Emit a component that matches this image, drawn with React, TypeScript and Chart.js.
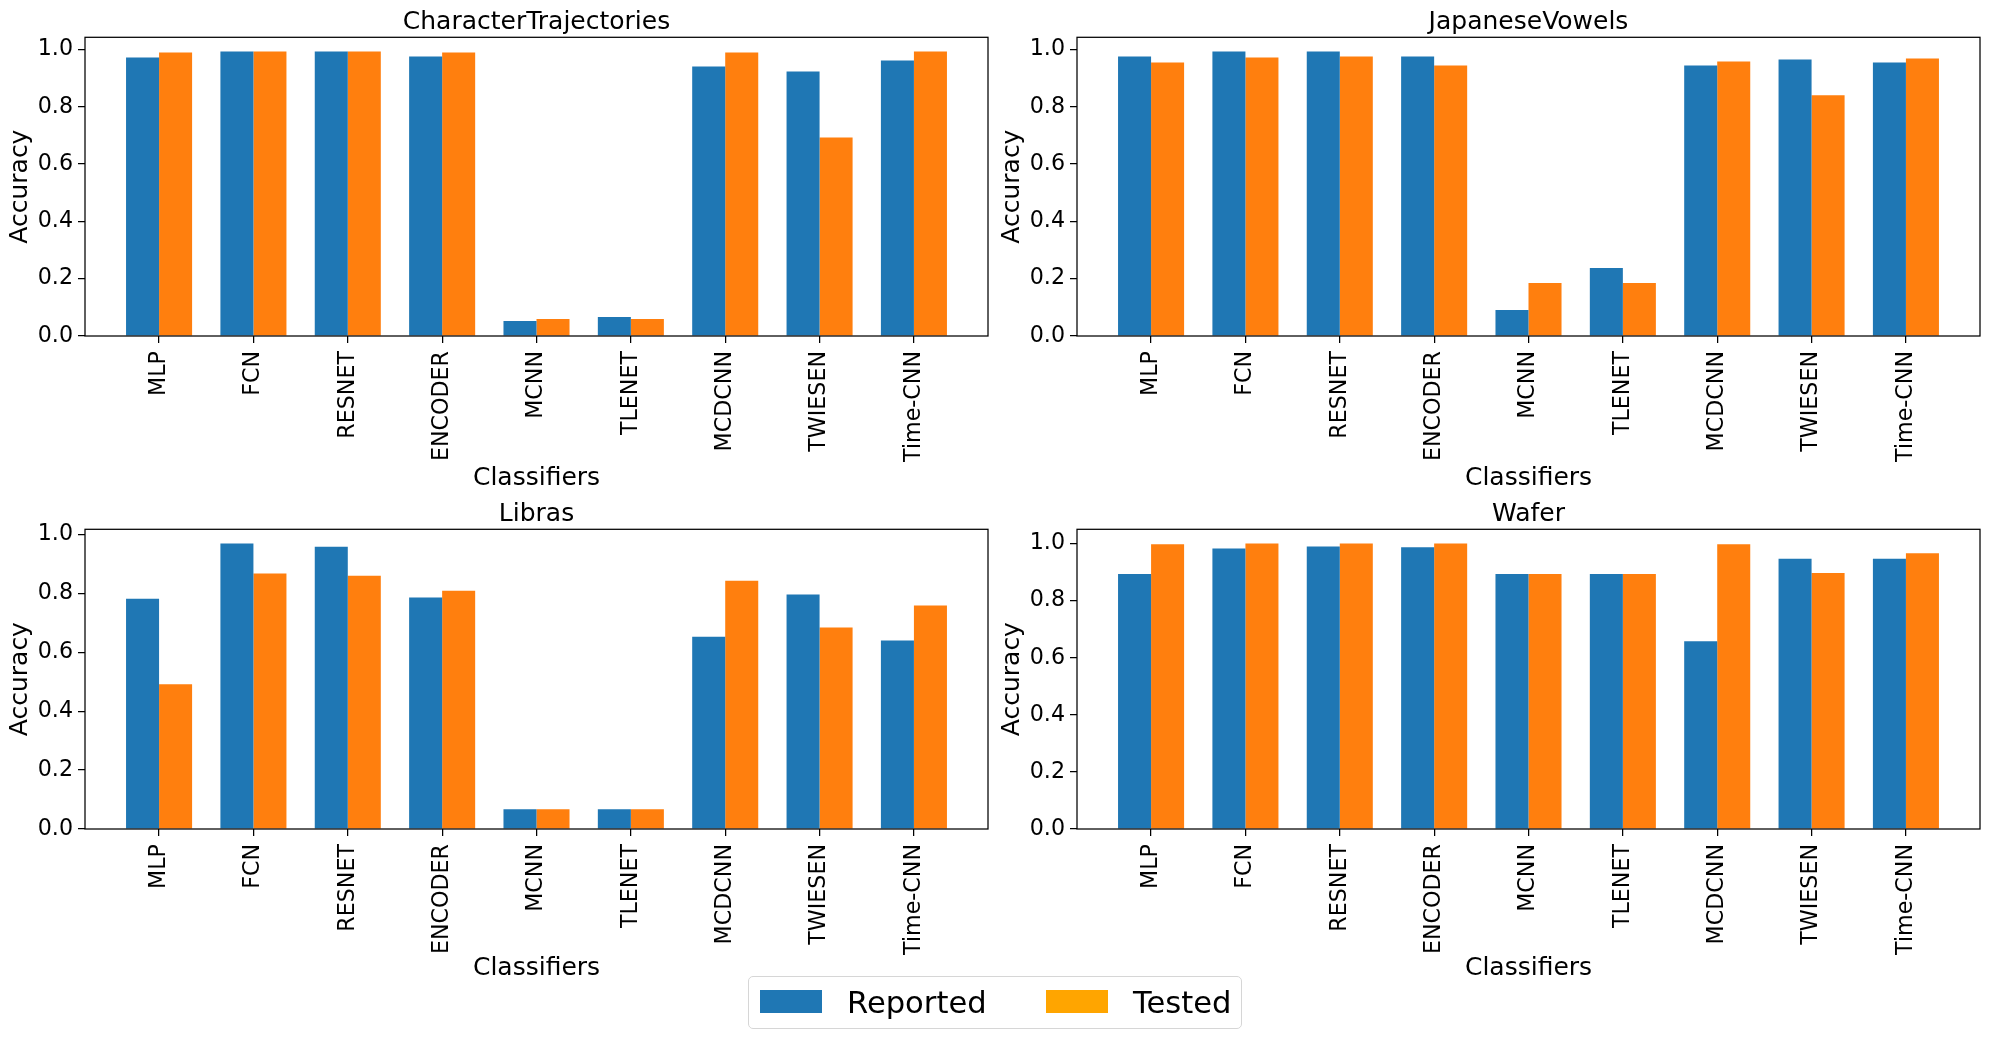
import React, { useEffect, useRef } from 'react';
import { Chart, registerables } from 'chart.js';

Chart.register(...registerables);

// ---------------- data ----------------
const classifiers = ['MLP', 'FCN', 'RESNET', 'ENCODER', 'MCNN', 'TLENET', 'MCDCNN', 'TWIESEN', 'Time-CNN'];
const seriesNames = ['Reported', 'Tested'];
const yTickValues = [0, 0.2, 0.4, 0.6, 0.8, 1.0];

const panelTitles = ['CharacterTrajectories', 'JapaneseVowels', 'Libras', 'Wafer'];

const charReported = [0.972, 0.993, 0.993, 0.976, 0.052, 0.066, 0.941, 0.923, 0.962];
const charTested = [0.990, 0.993, 0.993, 0.990, 0.059, 0.059, 0.990, 0.693, 0.993];

const japReported = [0.976, 0.993, 0.993, 0.976, 0.091, 0.237, 0.944, 0.965, 0.955];
const japTested = [0.955, 0.972, 0.976, 0.944, 0.185, 0.185, 0.958, 0.840, 0.969];

const librasReported = [0.782, 0.969, 0.958, 0.786, 0.0667, 0.0667, 0.653, 0.796, 0.640];
const librasTested = [0.491, 0.867, 0.860, 0.809, 0.0667, 0.0667, 0.843, 0.684, 0.759];

const waferReported = [0.893, 0.983, 0.990, 0.987, 0.893, 0.893, 0.658, 0.947, 0.947];
const waferTested = [0.998, 1.0, 1.0, 1.0, 0.893, 0.893, 0.998, 0.897, 0.966];

const panelReported = [charReported, japReported, librasReported, waferReported];
const panelTested = [charTested, japTested, librasTested, waferTested];

// ---------------- layout & style ----------------
const BLUE = '#1f77b4';
const ORANGE = '#ff7f0e';
const LEGEND_ORANGE = '#ffa500';
const FONT = "'DejaVu Sans', sans-serif";

type Layout = {
  left: number;
  top: number;
  width: number;
  height: number;
  padRight: number;
  titleBlock: number;
  titlePadTop: number;
  xBlock: number;
};

const layouts: Layout[] = [
  { left: 0, top: 0, width: 1000, height: 500, padRight: 12, titleBlock: 37.3, titlePadTop: 7.5, xBlock: 164 },
  { left: 992, top: 0, width: 998, height: 500, padRight: 10, titleBlock: 37.3, titlePadTop: 7.5, xBlock: 164 },
  { left: 0, top: 490, width: 1000, height: 500, padRight: 12, titleBlock: 39.3, titlePadTop: 9.7, xBlock: 161 },
  { left: 992, top: 490, width: 998, height: 500, padRight: 10, titleBlock: 39.3, titlePadTop: 9.7, xBlock: 161 },
];

const boxPlugin = {
  id: 'axesBox',
  afterDatasetsDraw(chart: any) {
    const { ctx, chartArea } = chart;
    const { left, top, right, bottom } = chartArea;
    ctx.save();
    ctx.strokeStyle = '#000';
    ctx.lineWidth = 1.25;
    ctx.strokeRect(left, top, right - left, bottom - top);
    ctx.restore();
  },
};

function Panel({ index }: { index: number }) {
  const ref = useRef<HTMLCanvasElement | null>(null);
  const lay = layouts[index];

  useEffect(() => {
    if (!ref.current) return;
    const reported = panelReported[index];
    const tested = panelTested[index];
    const n = classifiers.length;
    const lo = -0.35;
    const hi = n - 1 + 0.35;
    const margin = 0.05 * (hi - lo);
    const yMax = Math.max(...reported, ...tested) * 1.05;

    const tickGrid = {
      display: true,
      drawOnChartArea: false,
      drawTicks: true,
      tickLength: 7,
      color: '#000',
      lineWidth: 1.25,
      offset: false,
    };

    const chart = new Chart(ref.current, {
      type: 'bar',
      data: {
        datasets: [
          {
            label: seriesNames[0],
            data: reported.map((v, i) => ({ x: i, y: v })),
            backgroundColor: BLUE,
            borderWidth: 0,
            xAxisID: 'x',
            yAxisID: 'y',
          },
          {
            label: seriesNames[1],
            data: tested.map((v, i) => ({ x: i, y: v })),
            backgroundColor: ORANGE,
            borderWidth: 0,
            xAxisID: 'x',
            yAxisID: 'y',
          },
        ],
      },
      options: {
        animation: false,
        responsive: false,
        devicePixelRatio: 1,
        categoryPercentage: 0.7,
        barPercentage: 1.0,
        layout: { padding: { left: 0, right: lay.padRight, top: 0, bottom: 0 } },
        plugins: {
          legend: { display: false },
          tooltip: { enabled: false },
          title: { display: false },
        },
        scales: {
          x: {
            type: 'linear',
            position: 'bottom',
            min: lo - margin,
            max: hi + margin,
            offset: false,
            grid: tickGrid,
            border: { display: false },
            afterBuildTicks: (scale: any) => {
              scale.ticks = classifiers.map((_, i) => ({ value: i }));
            },
            afterFit: (scale: any) => {
              scale.height = lay.xBlock;
            },
            ticks: {
              autoSkip: false,
              minRotation: 90,
              maxRotation: 90,
              padding: 8,
              color: '#000',
              font: { family: FONT, size: 22.2 },
              callback: (v: any) => classifiers[Math.round(Number(v))] ?? '',
            },
            title: {
              display: true,
              text: 'Classifiers',
              color: '#000',
              font: { family: FONT, size: 25 },
              padding: { top: 0, bottom: 6.4 },
            },
          },
          xTop: {
            type: 'linear',
            position: 'top',
            display: true,
            grid: { display: false, drawTicks: false },
            border: { display: false },
            ticks: { display: false },
            afterFit: (scale: any) => {
              scale.height = lay.titleBlock;
            },
            title: {
              display: true,
              text: panelTitles[index],
              color: '#000',
              font: { family: FONT, size: 25 },
              padding: { top: lay.titlePadTop, bottom: 0 },
            },
          },
          y: {
            type: 'linear',
            position: 'left',
            min: 0,
            max: yMax,
            grid: tickGrid,
            border: { display: false },
            afterBuildTicks: (scale: any) => {
              scale.ticks = yTickValues.map((v) => ({ value: v }));
            },
            afterFit: (scale: any) => {
              scale.width = 85;
            },
            ticks: {
              padding: 5,
              color: '#000',
              font: { family: FONT, size: 22.2 },
              callback: (v: any) => Number(v).toFixed(1),
            },
            title: {
              display: true,
              text: 'Accuracy',
              color: '#000',
              font: { family: FONT, size: 25 },
              padding: { top: 5, bottom: 0 },
            },
          },
        },
      } as any,
      plugins: [boxPlugin],
    });
    return () => chart.destroy();
  }, [index]);

  return (
    <canvas
      ref={ref}
      width={lay.width}
      height={lay.height}
      style={{ position: 'absolute', left: lay.left, top: lay.top, width: lay.width, height: lay.height }}
    />
  );
}

function Legend() {
  const textStyle: React.CSSProperties = {
    position: 'absolute',
    top: -1.4,
    height: 53,
    lineHeight: '53px',
    fontFamily: FONT,
    fontSize: 30.6,
    color: '#000',
    whiteSpace: 'nowrap',
  };
  const patch: React.CSSProperties = { position: 'absolute', top: 13, width: 62, height: 23 };
  return (
    <div
      style={{
        position: 'absolute',
        left: 748,
        top: 976,
        width: 494,
        height: 53,
        boxSizing: 'border-box',
        border: '1.3px solid #d6d6d6',
        borderRadius: 5,
        background: 'rgba(255,255,255,0.8)',
      }}
    >
      <div style={{ ...patch, left: 11, background: BLUE }} />
      <div style={{ ...textStyle, left: 98 }}>{seriesNames[0]}</div>
      <div style={{ ...patch, left: 297, background: LEGEND_ORANGE }} />
      <div style={{ ...textStyle, left: 384 }}>{seriesNames[1]}</div>
    </div>
  );
}

export default function App() {
  return (
    <div
      style={{
        position: 'absolute',
        left: 0,
        top: 0,
        width: 1990,
        height: 1039,
        background: '#fff',
        overflow: 'hidden',
      }}
    >
      {panelTitles.map((_, i) => (
        <Panel key={i} index={i} />
      ))}
      <Legend />
    </div>
  );
}
